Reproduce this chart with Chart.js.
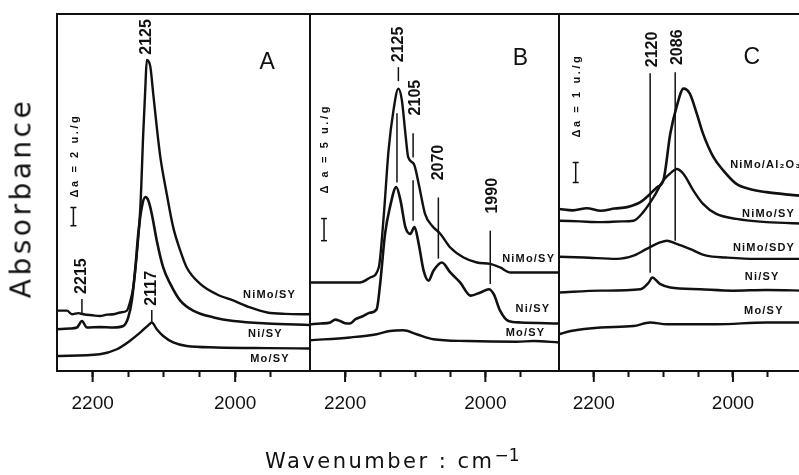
<!DOCTYPE html>
<html>
<head>
<meta charset="utf-8">
<script src="https://cdn.jsdelivr.net/npm/chart.js@4.4.1/dist/chart.umd.min.js"></script>
<style>
  html, body { margin:0; padding:0; width:799px; height:475px; overflow:hidden; background:#fff; }
  canvas { position:absolute; left:0; top:0; }
  .ttl { position:absolute; font-family:"DejaVu Sans", sans-serif; color:#111; white-space:nowrap; }
  #ytitle { left:21px; top:198px; font-size:28px; letter-spacing:3.5px; transform:translate(-50%,-50%) rotate(-90deg); }
  #xtitle { left:265px; top:449px; font-size:21px; letter-spacing:2.5px; }
  #xtitle sup { font-size:17px; position:relative; top:-4px; vertical-align:top; letter-spacing:0; }
</style>
</head>
<body>
<canvas id="cA" width="810" height="475"></canvas>
<canvas id="cB" width="810" height="475"></canvas>
<canvas id="cC" width="810" height="475"></canvas>
<div class="ttl" id="ytitle">Absorbance</div>
<div class="ttl" id="xtitle">Wavenumber : cm<sup>&minus;1</sup></div>
<script>
// ---------- DATA (wavenumber in cm-1, absorbance in arbitrary panel units) ----------
const X_TICKS = [2200, 2150, 2100, 2050, 2000, 1950];
const X_LABELED = [2200, 2000];

// Panel A
const A_NiMoSY_wn  = [2250, 2236, 2229, 2220, 2213, 2200, 2190, 2180, 2171, 2161, 2152, 2147, 2143, 2138, 2133, 2129, 2126, 2124, 2119, 2115, 2110, 2105, 2096, 2087, 2077, 2068, 2049, 2026, 2002, 1979, 1955, 1930, 1895];
const A_NiMoSY_abs = [16.9, 16.9, 15.9, 16.2, 15.9, 15.6, 15.4, 15.8, 15.9, 16.4, 16.9, 19.7, 23.4, 32.8, 45.9, 66.5, 79.6, 87.1, 85.2, 77.7, 68.3, 59.9, 49.6, 40.3, 33.7, 29.0, 24.4, 21.5, 19.7, 17.8, 16.4, 16.0, 15.9];
const A_NiSY_wn    = [2250, 2232, 2222, 2215, 2208, 2190, 2171, 2157, 2150, 2145, 2140, 2136, 2131, 2126, 2122, 2117, 2110, 2101, 2091, 2077, 2059, 2030, 2002, 1955, 1895];
const A_NiSY_abs   = [11.7, 11.9, 12.2, 14.0, 12.2, 12.3, 12.2, 12.6, 15.0, 19.7, 29.0, 38.4, 45.9, 48.7, 47.8, 44.0, 36.5, 29.0, 24.4, 19.7, 16.9, 15.0, 14.0, 13.3, 12.9];
const A_MoSY_wn    = [2250, 2190, 2166, 2148, 2133, 2121, 2117, 2110, 2101, 2087, 2068, 2026, 1955, 1895];
const A_MoSY_abs   = [4.2, 4.7, 6.1, 8.4, 10.8, 13.0, 13.6, 11.7, 9.8, 8.0, 7.0, 6.6, 6.4, 6.3];

// Panel B
const B_NiMoSY_wn  = [2250, 2179, 2164, 2152, 2145, 2138, 2131, 2124, 2119, 2114, 2110, 2102, 2095, 2086, 2076, 2064, 2050, 2031, 2012, 1993, 1979, 1964, 1931, 1895];
const B_NiMoSY_abs = [24.8, 24.8, 26.2, 29.0, 43.1, 61.8, 73.0, 79.1, 75.8, 66.5, 59.9, 58.0, 52.4, 44.0, 40.7, 38.4, 34.6, 31.8, 30.4, 30.0, 29.0, 27.6, 27.6, 27.6];
const B_NiSY_wn    = [2250, 2235, 2221, 2214, 2207, 2200, 2193, 2185, 2174, 2165, 2155, 2150, 2143, 2136, 2127, 2121, 2114, 2107, 2101, 2095, 2088, 2081, 2074, 2062, 2050, 2036, 2021, 2007, 1995, 1988, 1979, 1967, 1950, 1895];
const B_NiSY_abs   = [13.1, 13.3, 13.6, 14.4, 14.0, 13.4, 13.3, 14.5, 15.4, 16.3, 17.3, 24.4, 38.4, 45.9, 51.5, 47.8, 40.3, 38.4, 40.3, 35.6, 28.1, 25.3, 28.1, 30.4, 27.6, 24.8, 21.1, 22.0, 22.9, 21.5, 16.9, 14.0, 13.6, 13.3];
const B_MoSY_wn    = [2250, 2193, 2155, 2136, 2117, 2098, 2074, 2026, 1955, 1931, 1895];
const B_MoSY_abs   = [8.6, 9.4, 10.3, 11.2, 11.4, 10.3, 8.9, 8.4, 8.2, 8.4, 8.0];

// Panel C
const C_NiMoAl_wn   = [2250, 2230, 2210, 2190, 2170, 2152, 2133, 2119, 2109, 2100, 2090, 2081, 2071, 2062, 2052, 2043, 2028, 2014, 1995, 1976, 1952, 1920, 1895];
const C_NiMoAl_abs  = [45.4, 45.0, 45.6, 44.9, 45.5, 45.9, 47.3, 49.6, 51.5, 53.4, 66.5, 74.0, 79.1, 77.7, 72.1, 66.5, 59.9, 56.2, 52.4, 51.0, 50.1, 49.4, 49.0];
const C_NiMoSY_wn   = [2250, 2220, 2190, 2160, 2143, 2129, 2114, 2100, 2088, 2081, 2071, 2057, 2043, 2024, 1995, 1952, 1895];
const C_NiMoSY_abs  = [42.1, 41.9, 41.7, 41.9, 42.1, 44.5, 48.7, 53.4, 55.7, 56.6, 55.2, 50.6, 46.8, 44.0, 42.6, 41.7, 41.3];
const C_NiMoSDY_wn  = [2250, 2214, 2167, 2143, 2124, 2105, 2095, 2081, 2062, 2038, 2010, 1967, 1895];
const C_NiMoSDY_abs = [32.0, 31.8, 31.4, 32.3, 34.2, 36.0, 36.5, 35.6, 34.2, 32.3, 31.8, 31.4, 31.4];
const C_NiSY_wn     = [2250, 2190, 2133, 2121, 2116, 2105, 2090, 2047, 2000, 1952, 1895];
const C_NiSY_abs    = [22.0, 22.5, 22.9, 24.8, 26.2, 24.4, 23.4, 22.9, 22.5, 22.7, 22.5];
const C_MoSY_wn     = [2250, 2233, 2190, 2143, 2119, 2095, 2024, 1952, 1895];
const C_MoSY_abs    = [10.3, 11.2, 12.2, 12.6, 13.6, 13.1, 13.1, 13.6, 13.6];

// ---------- annotations (in data coordinates) ----------
const ANN = {
  A: {
    letter: { text: 'A', wn: 1955, v: 86.5 },
    bar: { wn: 2227, v1: 40.7, v2: 45.8, text: 'Δa = 2 u./g', tv: 48.6, twn: 2225 },
    peaks: [
      { text: '2125', wn: 2124, v: 88.6 },
      { text: '2215', wn: 2215, v: 21.6 },
      { text: '2117', wn: 2117, v: 18.3 }
    ],
    lines: [ { wn: 2215, v1: 16.0, v2: 20.2 }, { wn: 2117, v1: 13.8, v2: 17.1 } ],
    series: [
      { text: 'NiMo/SY', wn: 1989, v: 21.3 },
      { text: 'Ni/SY', wn: 1982, v: 10.4 },
      { text: 'Mo/SY', wn: 1979, v: 3.4 }
    ]
  },
  B: {
    letter: { text: 'B', wn: 1950, v: 87.6 },
    bar: { wn: 2230, v1: 36.5, v2: 42.7, text: 'Δ a = 5 u./g', tv: 49.7, twn: 2229 },
    peaks: [
      { text: '2125', wn: 2124, v: 86.5 },
      { text: '2105', wn: 2100, v: 71.6 },
      { text: '2070', wn: 2067, v: 53.4 },
      { text: '1990', wn: 1990, v: 44.1 }
    ],
    lines: [
      { wn: 2124, v1: 81.2, v2: 85.1 }, { wn: 2126, v1: 52.8, v2: 72.2 },
      { wn: 2103, v1: 59.8, v2: 66.6 }, { wn: 2103, v1: 42.1, v2: 53.4 },
      { wn: 2067, v1: 31.5, v2: 48.6 }, { wn: 1993, v1: 24.4, v2: 39.3 }
    ],
    series: [
      { text: 'NiMo/SY', wn: 1976, v: 31.5 },
      { text: 'Ni/SY', wn: 1957, v: 17.4 },
      { text: 'Mo/SY', wn: 1971, v: 10.7 }
    ]
  },
  C: {
    letter: { text: 'C', wn: 1973, v: 87.9 },
    bar: { wn: 2226, v1: 52.8, v2: 58.4, text: 'Δa = 1 u./g', tv: 65.4, twn: 2224 },
    peaks: [
      { text: '2120', wn: 2116, v: 85.1 },
      { text: '2086', wn: 2080, v: 85.7 }
    ],
    lines: [ { wn: 2119, v1: 27.5, v2: 83.4 }, { wn: 2083, v1: 36.5, v2: 83.7 } ],
    series: [
      { text: 'NiMo/Al₂O₃', wn: 2004, v: 57.6 },
      { text: 'NiMo/SY', wn: 1987, v: 44.1 },
      { text: 'NiMo/SDY', wn: 2000, v: 34.6 },
      { text: 'Ni/SY', wn: 1983, v: 26.4 },
      { text: 'Mo/SY', wn: 1984, v: 16.9 }
    ]
  }
};

// ---------- drawing ----------
const INK = '#111';
function pts(wn, ab) { return wn.map((x, i) => ({ x, y: ab[i] })); }
function ds(wn, ab, w) {
  return { data: pts(wn, ab), borderColor: INK, borderWidth: w || 2.4, pointRadius: 0,
           cubicInterpolationMode: 'monotone', fill: false };
}

const deco = {
  id: 'deco',
  afterDraw(chart, args, o) {
    const { ctx, chartArea: ca, scales: { x, y } } = chart;
    ctx.save();
    ctx.strokeStyle = INK; ctx.fillStyle = INK; ctx.lineCap = 'butt';
    const seg = (x1, y1, x2, y2, w) => { ctx.lineWidth = w; ctx.beginPath(); ctx.moveTo(x1, y1); ctx.lineTo(x2, y2); ctx.stroke(); };
    // frame
    ctx.lineWidth = 2;
    ctx.strokeRect(ca.left, ca.top, ca.right - ca.left, ca.bottom - ca.top);
    // longer major ticks
    X_LABELED.forEach(v => { const px = x.getPixelForValue(v); seg(px, ca.bottom, px, ca.bottom + 11, 2); });
    // marker lines
    o.lines.forEach(l => { const px = x.getPixelForValue(l.wn); seg(px, y.getPixelForValue(l.v1), px, y.getPixelForValue(l.v2), 1.5); });
    // rotated peak labels
    ctx.font = 'bold 16px "Liberation Sans", Arial, sans-serif';
    ctx.textAlign = 'left'; ctx.textBaseline = 'middle';
    o.peaks.forEach(p => {
      ctx.save(); ctx.translate(x.getPixelForValue(p.wn), y.getPixelForValue(p.v)); ctx.rotate(-Math.PI / 2);
      ctx.fillText(p.text, 0, 0); ctx.restore();
    });
    // panel letter
    ctx.font = '23px "Liberation Sans", Arial, sans-serif';
    ctx.textAlign = 'center';
    ctx.fillText(o.letter.text, x.getPixelForValue(o.letter.wn), y.getPixelForValue(o.letter.v));
    // scale bar
    const bx = x.getPixelForValue(o.bar.wn), by1 = y.getPixelForValue(o.bar.v1), by2 = y.getPixelForValue(o.bar.v2);
    seg(bx, by1, bx, by2, 1.5); seg(bx - 3, by1, bx + 3, by1, 1.5); seg(bx - 3, by2, bx + 3, by2, 1.5);
    ctx.save(); ctx.translate(x.getPixelForValue(o.bar.twn), y.getPixelForValue(o.bar.tv)); ctx.rotate(-Math.PI / 2);
    ctx.font = 'bold 11px "Liberation Sans", Arial, sans-serif'; ctx.letterSpacing = '2.6px';
    ctx.textAlign = 'left'; ctx.fillText(o.bar.text, 0, 0); ctx.restore();
    // series labels
    ctx.font = 'bold 11px "Liberation Sans", Arial, sans-serif'; ctx.letterSpacing = '1.2px';
    ctx.textAlign = 'left'; ctx.textBaseline = 'middle';
    o.series.forEach(s => ctx.fillText(s.text, x.getPixelForValue(s.wn), y.getPixelForValue(s.v)));
    ctx.restore();
  }
};

function makePanel(id, datasets, pad, ann) {
  return new Chart(document.getElementById(id), {
    type: 'line',
    data: { datasets },
    plugins: [deco],
    options: {
      responsive: false, animation: false, events: [],
      layout: { padding: pad },
      plugins: { legend: { display: false }, tooltip: { enabled: false }, deco: ann },
      scales: {
        x: {
          type: 'linear', reverse: true, min: 1895, max: 2250,
          afterBuildTicks: s => { s.ticks = X_TICKS.map(v => ({ value: v })); },
          afterFit: s => { s.height = 40; },
          border: { display: false },
          grid: { drawOnChartArea: false, drawTicks: true, tickLength: 6, tickColor: INK, tickWidth: 2 },
          ticks: { color: INK, padding: 15, maxRotation: 0, autoSkip: false,
                   font: { family: '"Liberation Sans", Arial, sans-serif', size: 19 },
                   callback: v => (X_LABELED.includes(v) ? String(v) : '') }
        },
        y: { display: false, min: 0, max: 100 }
      }
    }
  });
}

makePanel('cA', [ds(A_NiMoSY_wn, A_NiMoSY_abs), ds(A_NiSY_wn, A_NiSY_abs, 2.6), ds(A_MoSY_wn, A_MoSY_abs)],
  { left: 57, right: 500, top: 14, bottom: 64 }, ANN.A);
makePanel('cB', [ds(B_NiMoSY_wn, B_NiMoSY_abs), ds(B_NiSY_wn, B_NiSY_abs, 2.6), ds(B_MoSY_wn, B_MoSY_abs)],
  { left: 310, right: 251, top: 14, bottom: 64 }, ANN.B);
makePanel('cC', [ds(C_NiMoAl_wn, C_NiMoAl_abs, 2.6), ds(C_NiMoSY_wn, C_NiMoSY_abs), ds(C_NiMoSDY_wn, C_NiMoSDY_abs),
                 ds(C_NiSY_wn, C_NiSY_abs), ds(C_MoSY_wn, C_MoSY_abs)],
  { left: 559, right: 4, top: 14, bottom: 64 }, ANN.C);
</script>
</body>
</html>
